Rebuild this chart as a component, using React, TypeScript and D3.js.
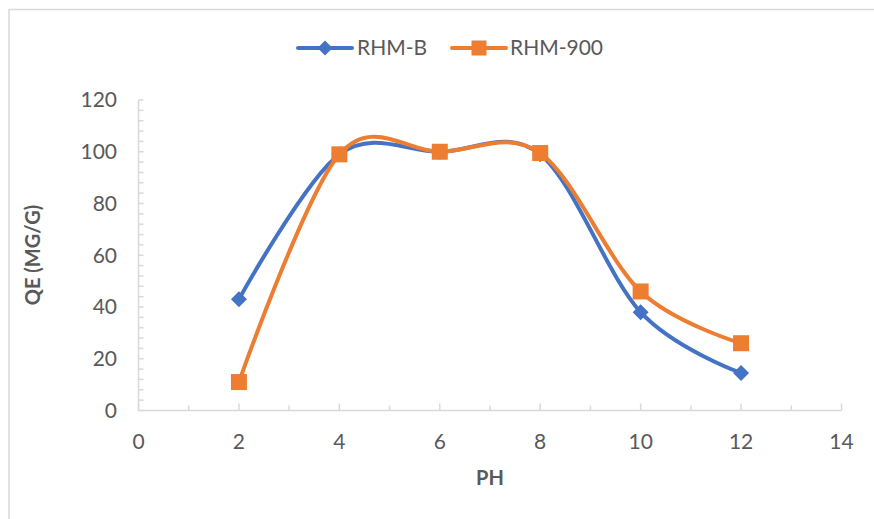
import React from "react";
import * as d3 from "d3";

// pH values tested and adsorption capacity (mg/g) for each adsorbent
const phValues = [2, 4, 6, 8, 10, 12];
const rhmB = [43, 99, 100, 99, 38, 14.5];
const rhm900 = [11, 99, 100, 99.5, 46, 26];

const seriesNames = ["RHM-B", "RHM-900"];
const seriesColors = ["#4472C4", "#ED7D31"];

const xTicks = [0, 2, 4, 6, 8, 10, 12, 14];
const yTicks = [0, 20, 40, 60, 80, 100, 120];

const W = 874;
const H = 519;
const FONT = "Lato, 'Open Sans', 'Liberation Sans', sans-serif";
const TEXT = "#595959";
const AXIS = "#D9D9D9";

export default function App() {
  const x = d3.scaleLinear().domain([0, 14]).range([138.5, 841.5]);
  const y = d3.scaleLinear().domain([0, 120]).range([410.5, 100]);

  const line = d3
    .line<[number, number]>()
    .x((d) => x(d[0]))
    .y((d) => y(d[1]))
    .curve(d3.curveCardinal.tension(0));

  const series = [rhmB, rhm900].map((vals) =>
    phValues.map((p, i) => [p, vals[i]] as [number, number])
  );

  const xMinor = d3.range(0, 14.001, 1);
  const yMinor = d3.range(0, 120.001, 4);

  const diamond = (cx: number, cy: number, r: number) =>
    `M${cx},${cy - r}L${cx + r},${cy}L${cx},${cy + r}L${cx - r},${cy}Z`;

  const marker = (si: number, cx: number, cy: number, key: string | number) =>
    si === 0 ? (
      <path key={key} d={diamond(cx, cy, 8)} fill={seriesColors[0]} />
    ) : (
      <rect
        key={key}
        x={cx - 8}
        y={cy - 8}
        width={16}
        height={16}
        fill={seriesColors[1]}
      />
    );

  return (
    <svg
      width={W}
      height={H}
      style={{ position: "absolute", left: 0, top: 0, background: "#fff" }}
      fontFamily={FONT}
    >
      {/* chart area frame */}
      <rect x={9} y={9.5} width={880} height={520} fill="#fff" stroke={AXIS} strokeWidth={1.5} />

      {/* legend */}
      <g>
        <line x1={298} x2={352} y1={48} y2={48} stroke={seriesColors[0]} strokeWidth={4} strokeLinecap="round" />
        <path d={diamond(325, 48, 7.5)} fill={seriesColors[0]} />
        <text x={357} y={48} dy="0.35em" fontSize={21} fill={TEXT}>
          {seriesNames[0]}
        </text>
        <line x1={452} x2={506} y1={48} y2={48} stroke={seriesColors[1]} strokeWidth={4} strokeLinecap="round" />
        <rect x={471.5} y={40.5} width={15} height={15} fill={seriesColors[1]} />
        <text x={510} y={48} dy="0.35em" fontSize={21} fill={TEXT}>
          {seriesNames[1]}
        </text>
      </g>

      {/* axes */}
      <g stroke={AXIS} strokeWidth={1.5}>
        <line x1={x(0)} x2={x(0)} y1={y(120)} y2={y(0)} />
        <line x1={x(0)} x2={x(14)} y1={y(0)} y2={y(0)} />
        {yMinor.map((v) => (
          <line key={"ym" + v} x1={x(0)} x2={x(0) + 5} y1={y(v)} y2={y(v)} />
        ))}
        {xMinor.map((v) => (
          <line key={"xm" + v} x1={x(v)} x2={x(v)} y1={y(0)} y2={y(0) - (v % 2 === 0 ? 7 : 5)} />
        ))}
      </g>

      {/* tick labels */}
      <g fontSize={21} fill={TEXT}>
        {yTicks.map((v) => (
          <text key={"yt" + v} x={117} y={y(v)} dy="0.35em" textAnchor="end">
            {v}
          </text>
        ))}
        {xTicks.map((v) => (
          <text key={"xt" + v} x={x(v)} y={442} dy="0.35em" textAnchor="middle">
            {v}
          </text>
        ))}
      </g>

      {/* axis titles */}
      <text x={490} y={478} dy="0.35em" textAnchor="middle" fontSize={20} fontWeight="bold" fill={TEXT}>
        PH
      </text>
      <text
        transform={`translate(33,255) rotate(-90)`}
        dy="0.35em"
        textAnchor="middle"
        fontSize={20}
        fontWeight="bold"
        fill={TEXT}
      >
        QE (MG/G)
      </text>

      {/* series */}
      {series.map((pts, si) => (
        <g key={si}>
          <path d={line(pts) || ""} fill="none" stroke={seriesColors[si]} strokeWidth={4} strokeLinecap="round" />
          {pts.map((p, i) => marker(si, x(p[0]), y(p[1]), i))}
        </g>
      ))}
    </svg>
  );
}
